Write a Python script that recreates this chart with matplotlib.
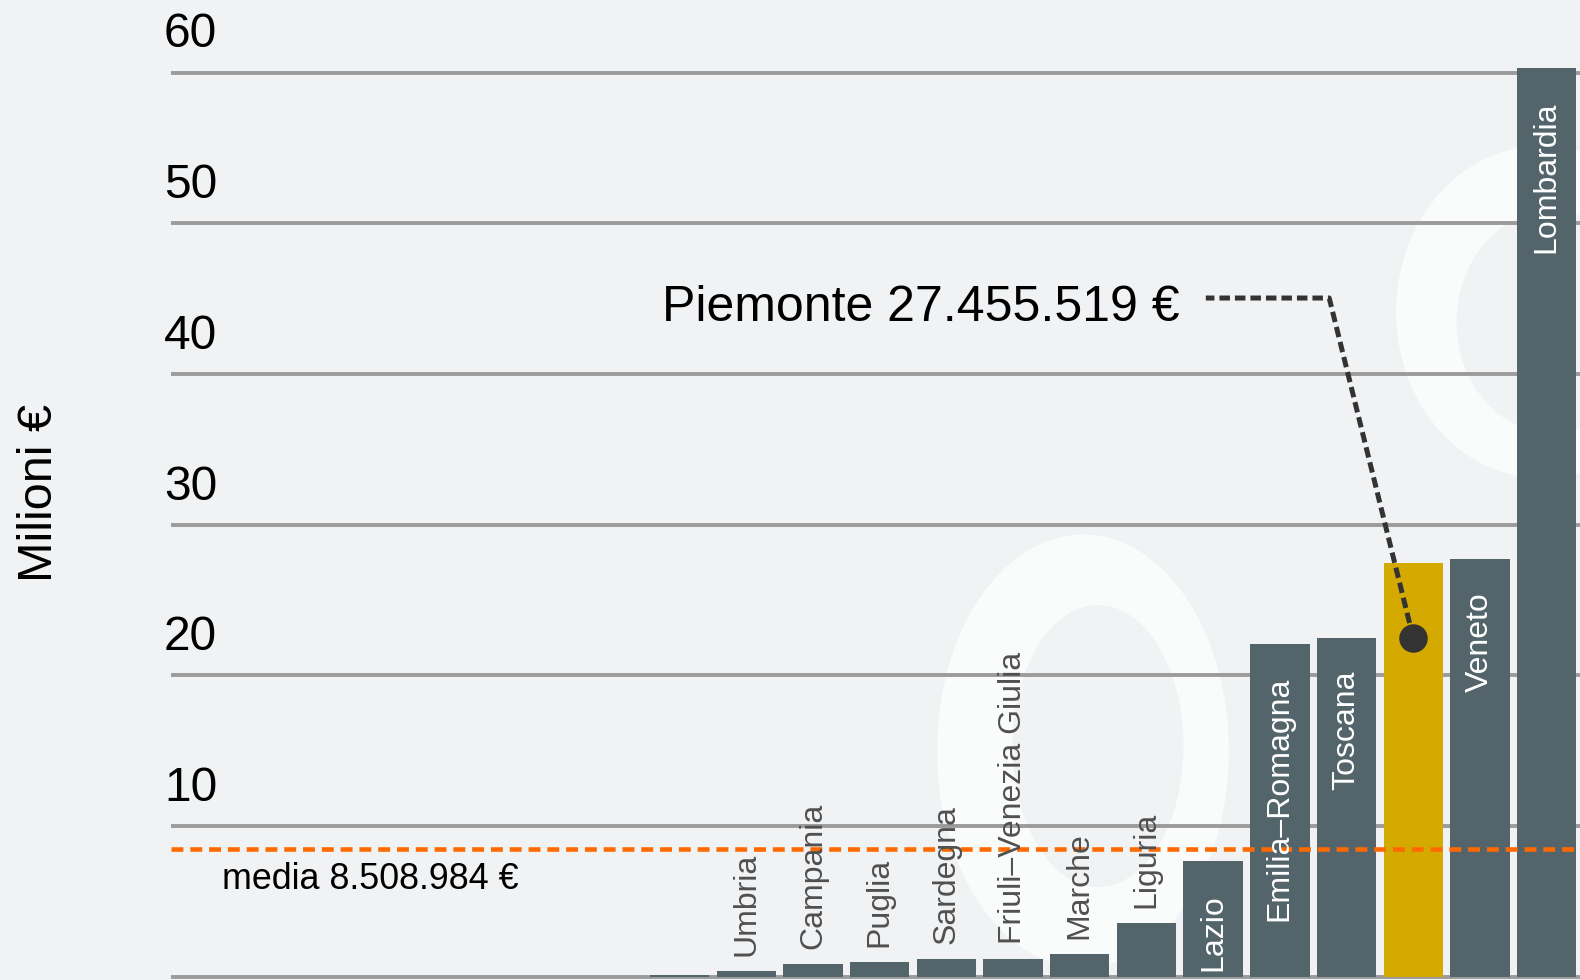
import matplotlib
matplotlib.use("Agg")
import matplotlib.pyplot as plt
from matplotlib.patches import Ellipse
from matplotlib.transforms import IdentityTransform, blended_transform_factory

plt.rcParams['font.family'] = ['Liberation Sans', 'DejaVu Sans']

# ---- data (milioni di euro) ----
regioni = ["Abruzzo", "Basilicata", "Calabria", "Molise", "P.A. Bolzano", "P.A. Trento",
           "Valle d'Aosta", "Sicilia", "Umbria", "Campania", "Puglia", "Sardegna",
           "Friuli–Venezia Giulia", "Marche", "Liguria", "Lazio", "Emilia–Romagna",
           "Toscana", "Piemonte", "Veneto", "Lombardia"]
valori = [0, 0, 0, 0, 0, 0, 0, 0.1, 0.42, 0.86, 1.0, 1.2, 1.2, 1.5, 3.6, 7.7,
          22.1, 22.5, 27.455519, 27.7, 60.3]
media = 8.508984
evidenziata = "Piemonte"
tick_vals = [10, 20, 30, 40, 50, 60]
grid_vals = [0, 10, 20, 30, 40, 50, 60]
testo_media = "media 8.508.984 €"
testo_evid = "Piemonte 27.455.519 €"
ylabel = "Milioni €"

# ---- style ----
BG = "#f1f2f4"
BAR = "#53646b"
GOLD = "#d4a900"
ORANGE = "#ff6a00"
GRID = "#9b9b9b"
DARK = "#333333"
W, H = 1580, 980

fig = plt.figure(figsize=(W / 100, H / 100), dpi=100, facecolor=BG)

# faint watermark rings
def ring(cx, cy, w, h, iw, ih, icx, icy):
    fig.add_artist(Ellipse((cx, H - cy), w, h, transform=IdentityTransform(),
                           facecolor="white", edgecolor="none", alpha=0.7, zorder=-2))
    fig.add_artist(Ellipse((icx, H - icy), iw, ih, transform=IdentityTransform(),
                           facecolor=BG, edgecolor="none", zorder=-1))

ring(1083, 751, 292, 433, 171, 282, 1098, 746)
ring(1542, 312, 292, 333, 191, 222, 1552, 322)

ax = fig.add_axes([171 / W, 0, 1 - 171 / W, 1])
ax.set_facecolor("none")
for s in ax.spines.values():
    s.set_visible(False)

x = list(range(len(regioni)))
colors = [GOLD if r == evidenziata else BAR for r in regioni]
ax.bar(x, valori, width=0.89, color=colors, zorder=2)

for g in grid_vals:
    ax.axhline(g, color=GRID, lw=2.8, zorder=1)

ax.set_xlim(-0.625, len(regioni) - 0.5)
ax.set_ylim(-0.2, 64.81)
ax.set_xticks([])
ax.set_yticks([])

# y tick labels above gridlines
tr = blended_transform_factory(fig.transFigure, ax.transData)
for v in tick_vals:
    ax.text(164 / W, v + 1.67, str(v), transform=tr, ha="left", va="baseline",
            fontsize=34.5, color="black")

fig.text(52 / W, 1 - 493 / H, ylabel, rotation=90, rotation_mode="anchor",
         ha="center", va="baseline", fontsize=35, color="black")

# bar labels
for xi, r, v in zip(x, regioni, valori):
    if r == evidenziata or v < 0.3:
        continue
    if v >= 5:
        ax.text(xi, v - 2.2, r, rotation=90, rotation_mode="anchor", ha="right",
                va="center", color="white", fontsize=23, zorder=5)
    else:
        ax.text(xi, v + 1.0, r, rotation=90, rotation_mode="anchor", ha="left",
                va="center", color="#505050", fontsize=23, zorder=5)

# mean line
ax.axhline(media, color=ORANGE, lw=3.3, dashes=(2.6, 1.5), zorder=3)
ax.text(0.14, media - 2.7, testo_media, ha="left", va="baseline", fontsize=25.8,
        color="black", zorder=5)

# callout for highlighted region
ih = regioni.index(evidenziata)
vh = valori[ih]
dot_y = vh * 0.819
corner_x, corner_y = ih - 1.26, 45.04
end_x = ih - 3.11
ax.plot([ih, corner_x, end_x], [dot_y, corner_y, corner_y], color=DARK, lw=3.6,
        dashes=(2.1, 1.0), zorder=6, solid_capstyle="butt", dash_capstyle="butt")
ax.plot([ih], [dot_y], "o", color=DARK, markersize=19.5, zorder=7)
ax.text(ih - 3.51, corner_y - 1.5, testo_evid, ha="right", va="baseline",
        fontsize=36, color="black", zorder=5)

fig.savefig("out.png", dpi=100, facecolor=BG)
